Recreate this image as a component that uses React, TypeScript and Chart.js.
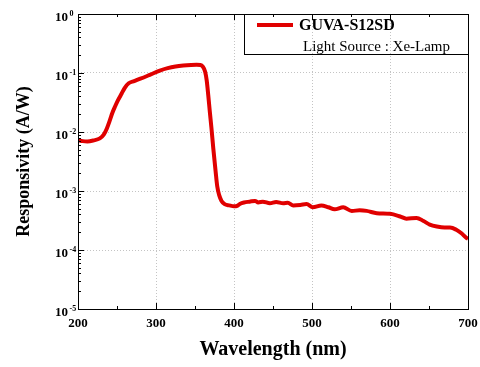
import React, { useEffect, useRef } from 'react';
import { Chart, registerables } from 'chart.js';

Chart.register(...registerables);

const wavelengths = [
  200, 206, 212, 220, 228, 233, 237, 241, 244, 247.5, 251, 256, 260, 265, 272, 280, 292, 305, 315, 325,
  335, 345, 352, 357, 360, 363, 365, 367, 369, 371, 373.5, 376.5, 378.5, 381, 384, 388, 394, 400, 404, 408,
  413, 420, 427, 431, 437, 446, 454, 463, 469, 476, 485, 493, 501, 512, 521, 529, 540, 551, 561, 570,
  583, 600, 613, 621, 634, 643, 651, 660, 670, 677, 685, 692, 698, 700,
];

const responsivity = [
  0.0073, 0.007, 0.0069, 0.0072, 0.0078, 0.009, 0.0115, 0.016, 0.021, 0.027, 0.034, 0.045, 0.056, 0.067, 0.073, 0.08, 0.093, 0.11, 0.121, 0.129,
  0.134, 0.137, 0.138, 0.137, 0.128, 0.105, 0.075, 0.042, 0.022, 0.012, 0.0052, 0.0021, 0.0012, 0.00085, 0.00068, 0.0006, 0.00057, 0.00055, 0.00056, 0.00061,
  0.00064, 0.00066, 0.00068, 0.00064, 0.00066, 0.00062, 0.00065, 0.00062, 0.00063, 0.00057, 0.00058, 0.0006, 0.00053, 0.00057, 0.00053, 0.00049, 0.00053, 0.00046, 0.00047, 0.00046,
  0.00042, 0.00041, 0.00037, 0.00034, 0.00035, 0.00031, 0.00027, 0.00025, 0.00024, 0.00024, 0.00022, 0.00019, 0.00016, 0.000155,
];

const xTickValues = [200, 250, 300, 350, 400, 450, 500, 550, 600, 650, 700];
const yDecades = [-5, -4, -3, -2, -1, 0];
const seriesLabel = 'GUVA-S12SD';
const legendNote = 'Light Source : Xe-Lamp';
const xTitle = 'Wavelength (nm)';
const yTitle = 'Responsivity (A/W)';

const FONT = "'Liberation Serif', 'Times New Roman', serif";
const RED = '#e00000';
const GRID = '#c4c4c4';

const isDecade = (v: number) => {
  const l = Math.log10(v);
  return Math.abs(l - Math.round(l)) < 1e-6;
};

const framePlugin = {
  id: 'frameDecor',
  afterDraw(chart: any) {
    const { ctx, chartArea } = chart;
    const { left, right, top, bottom } = chartArea;
    const xs = chart.scales.x;
    const ys = chart.scales.y;
    ctx.save();
    ctx.strokeStyle = '#000';
    ctx.lineWidth = 1;
    ctx.strokeRect(Math.round(left) + 0.5, Math.round(top) + 0.5, Math.round(right - left), Math.round(bottom - top));

    // x ticks (inward, bottom and top)
    ctx.beginPath();
    xTickValues.forEach((v) => {
      const px = Math.round(xs.getPixelForValue(v)) + 0.5;
      const len = v % 100 === 0 ? 6 : 3;
      ctx.moveTo(px, bottom);
      ctx.lineTo(px, bottom - len);
      ctx.moveTo(px, top);
      ctx.lineTo(px, top + len);
    });
    // y ticks (inward, left)
    yDecades.forEach((n) => {
      const py = Math.round(ys.getPixelForValue(Math.pow(10, n))) + 0.5;
      ctx.moveTo(left, py);
      ctx.lineTo(left + 6, py);
      if (n < 0) {
        for (let m = 2; m <= 9; m++) {
          const pm = Math.round(ys.getPixelForValue(m * Math.pow(10, n))) + 0.5;
          ctx.moveTo(left, pm);
          ctx.lineTo(left + 3, pm);
        }
      }
    });
    ctx.stroke();

    // y tick labels with superscript exponents
    ctx.fillStyle = '#000';
    yDecades.forEach((n) => {
      const py = ys.getPixelForValue(Math.pow(10, n));
      ctx.font = `bold 13px ${FONT}`;
      ctx.textAlign = 'right';
      ctx.textBaseline = 'alphabetic';
      ctx.fillText('10', 68, py + 7);
      ctx.font = `bold 8px ${FONT}`;
      ctx.textAlign = 'left';
      ctx.fillText(String(n), 69.5, py + 1.5);
    });

    // legend box
    const lx = 244;
    ctx.strokeStyle = '#000';
    ctx.lineWidth = 1;
    ctx.strokeRect(lx + 0.5, Math.round(top) + 0.5, Math.round(right) - lx, 40);
    ctx.strokeStyle = RED;
    ctx.lineWidth = 4;
    ctx.beginPath();
    ctx.moveTo(257, 25);
    ctx.lineTo(293, 25);
    ctx.stroke();
    ctx.fillStyle = '#000';
    ctx.textAlign = 'left';
    ctx.textBaseline = 'alphabetic';
    ctx.font = `bold 16px ${FONT}`;
    ctx.fillText(chart.data.datasets[0].label, 299, 30);
    ctx.font = `15px ${FONT}`;
    ctx.fillText(legendNote, 303, 51);
    ctx.restore();
  },
};

export default function App() {
  const ref = useRef<HTMLCanvasElement | null>(null);
  useEffect(() => {
    if (!ref.current) return;
    const chart = new Chart(ref.current, {
      type: 'line',
      data: {
        datasets: [
          {
            label: seriesLabel,
            data: wavelengths.map((w, i) => ({ x: w, y: responsivity[i] })),
            borderColor: RED,
            backgroundColor: RED,
            borderWidth: 4,
            pointRadius: 0,
            cubicInterpolationMode: 'monotone',
            fill: false,
          },
        ],
      },
      options: {
        animation: false,
        responsive: true,
        maintainAspectRatio: false,
        layout: { padding: { top: 14, right: 12, left: 0, bottom: 0 } },
        plugins: { legend: { display: false }, tooltip: { enabled: false } },
        scales: {
          x: {
            type: 'linear',
            min: 200,
            max: 700,
            afterBuildTicks: (scale: any) => {
              scale.ticks = xTickValues.map((v) => ({ value: v }));
            },
            afterFit: (scale: any) => {
              scale.height = 58;
              scale.paddingLeft = 0;
              scale.paddingRight = 0;
            },
            ticks: {
              autoSkip: false,
              maxRotation: 0,
              padding: 7,
              color: '#000',
              font: { family: FONT, size: 13, weight: 'bold' },
              callback: (v: any) => (Number(v) % 100 === 0 ? String(v) : ''),
            },
            grid: {
              drawTicks: false,
              color: (c: any) => {
                const v = c.tick && c.tick.value;
                return v % 100 === 0 && v > 200 && v < 700 ? GRID : 'rgba(0,0,0,0)';
              },
              lineWidth: 1,
            },
            border: { display: false, dash: [1, 2] },
            title: {
              display: true,
              text: xTitle,
              color: '#000',
              font: { family: FONT, size: 20, weight: 'bold' },
              padding: { top: 0, bottom: 5 },
            },
          },
          y: {
            type: 'logarithmic',
            min: 1e-5,
            max: 1,
            afterFit: (scale: any) => {
              scale.width = 78;
            },
            ticks: { display: false },
            grid: {
              drawTicks: false,
              color: (c: any) => {
                const v = c.tick && c.tick.value;
                return v && isDecade(v) && v < 0.5 && v > 2e-5 ? GRID : 'rgba(0,0,0,0)';
              },
              lineWidth: 1,
            },
            border: { display: false, dash: [1, 2] },
            title: {
              display: true,
              text: yTitle,
              color: '#000',
              font: { family: FONT, size: 18, weight: 'bold' },
              padding: { top: 14, bottom: 0 },
            },
          },
        },
      },
      plugins: [framePlugin],
    } as any);
    return () => chart.destroy();
  }, []);
  return (
    <div style={{ position: 'fixed', left: 0, top: 0, width: 480, height: 367, background: '#fff' }}>
      <canvas ref={ref} />
    </div>
  );
}
